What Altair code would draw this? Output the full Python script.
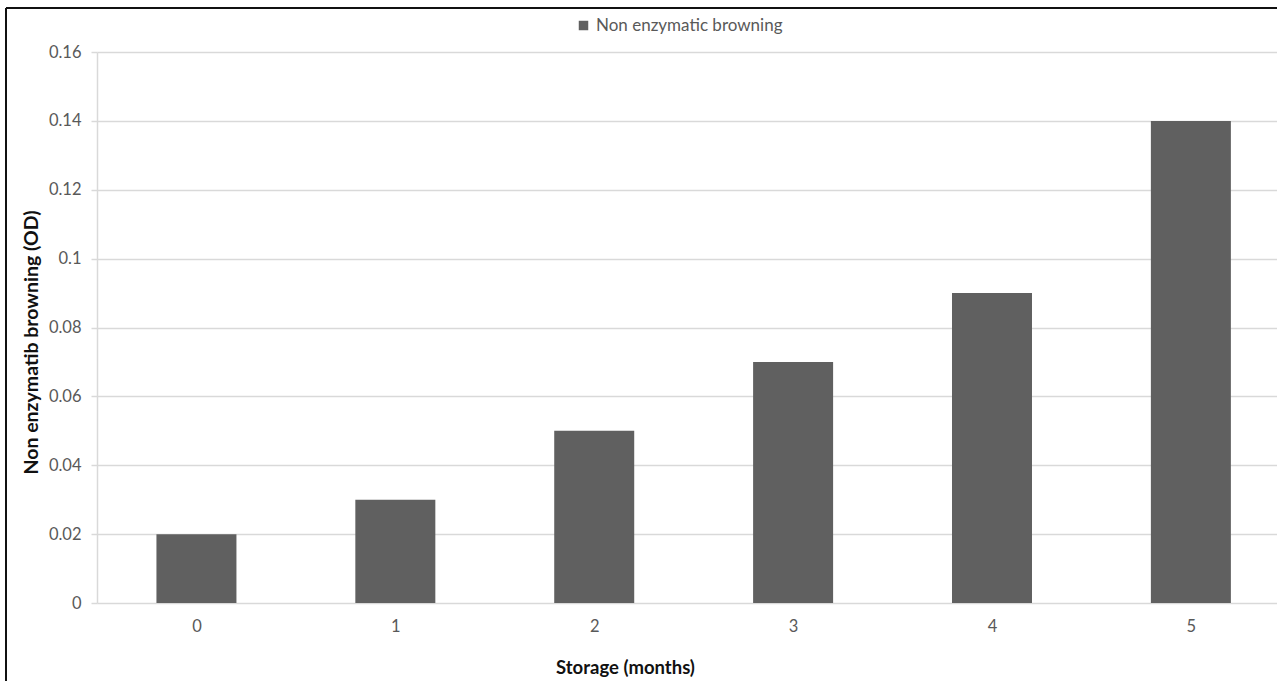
import altair as alt
import pandas as pd

months = [0, 1, 2, 3, 4, 5]
browning = [0.02, 0.03, 0.05, 0.07, 0.09, 0.14]
series_name = "Non enzymatic browning"

df = pd.DataFrame({"month": months, "value": browning, "series": [series_name] * len(months)})

FONT = "Lato"
W = 1180
H = 551

bars = alt.Chart(df).mark_bar(size=80, color="#606060").encode(
    x=alt.X("month:Q",
            scale=alt.Scale(domain=[-0.5, 5.433], nice=False, zero=False, padding=0),
            axis=alt.Axis(values=months, title="Storage (months)", format="d",
                          grid=False, ticks=False, domain=False,
                          labelPadding=15,
                          titleX=528, titleY=64, titleAnchor="middle", titleAlign="center",
                          titleBaseline="middle")),
    y=alt.Y("value:Q",
            scale=alt.Scale(domain=[0, 0.16], nice=False),
            axis=alt.Axis(values=[0, 0.02, 0.04, 0.06, 0.08, 0.1, 0.12, 0.14, 0.16],
                          format=".2~f", title="Non enzymatib browning (OD)",
                          tickSize=6, labelPadding=10, titleFontSize=19.5,
                          titleX=-66, titleY=290, titleAlign="center", titleBaseline="middle",
                          titleAngle=270)),
    color=alt.Color("series:N", scale=alt.Scale(range=["#606060"]),
                    legend=alt.Legend(title=None, orient="none", legendX=478, legendY=-35,
                                      symbolType="square", symbolSize=90, labelLimit=400,
                                      labelFont=FONT, labelFontSize=17, labelColor="#595959")),
)

frame_top = alt.Chart(df).mark_rule(color="#111111", strokeWidth=2).encode(
    x=alt.value(-91), x2=alt.value(W), y=alt.value(-44)
)
frame_left = alt.Chart(df).mark_rule(color="#111111", strokeWidth=2).encode(
    x=alt.value(-91), y=alt.value(-44), y2=alt.value(H + 78)
)

chart = alt.layer(bars, frame_top, frame_left).properties(
    width=W, height=H,
    autosize=alt.AutoSizeParams(type="none"),
    padding={"left": 97, "top": 52, "right": 0, "bottom": 78},
    background="white",
).configure_view(stroke=None).configure_axis(
    labelFont=FONT, labelFontSize=16.5, labelColor="#595959",
    titleFont=FONT, titleFontSize=18.5, titleColor="#111111", titleFontWeight="bold",
    gridColor="#d9d9d9", gridWidth=1.5, domainColor="#d9d9d9", domainWidth=1.5,
    tickColor="#d9d9d9", tickWidth=1.5,
)

chart.save("out.html", embed_options={"renderer": "svg", "actions": False})
